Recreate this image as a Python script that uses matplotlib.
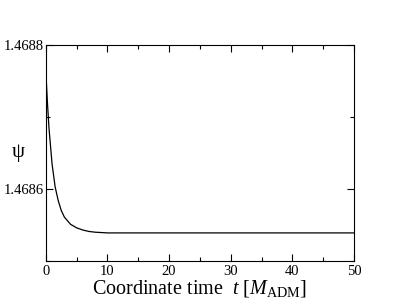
import matplotlib
matplotlib.use("Agg")
import matplotlib.pyplot as plt
from matplotlib.ticker import MultipleLocator, FormatStrFormatter

# values
t = [0, 0.25, 0.5, 1, 1.5, 2, 2.5, 3, 4, 5, 6, 7, 8, 10, 12, 15, 20, 30, 40, 50]
psi = [1.468762, 1.46872, 1.468685, 1.468635, 1.468603, 1.468584, 1.46857,
       1.468561, 1.468551, 1.468546, 1.468543, 1.468541, 1.46854, 1.468539,
       1.468539, 1.468539, 1.468539, 1.468539, 1.468539, 1.468539]

plt.rcParams['font.family'] = ['Liberation Serif', 'DejaVu Serif']
plt.rcParams['mathtext.fontset'] = 'custom'
plt.rcParams['mathtext.rm'] = 'Liberation Serif'
plt.rcParams['mathtext.it'] = 'Liberation Serif:italic'

fig = plt.figure(figsize=(3.99, 3.08), dpi=100)
ax = fig.add_axes([0.115, 0.1526, 0.772, 0.7014])
ax.plot(t, psi, color='black', lw=0.9)

ax.set_xlim(0, 50)
ax.set_ylim(1.4685, 1.4688)
ax.xaxis.set_major_locator(MultipleLocator(10))
ax.xaxis.set_minor_locator(MultipleLocator(5))
ax.yaxis.set_major_locator(MultipleLocator(0.0002))
ax.yaxis.set_minor_locator(MultipleLocator(0.0001))
ax.yaxis.set_major_formatter(FormatStrFormatter('%.4f'))
ax.tick_params(which='both', direction='in', top=True, right=True, labelsize=10.5)
ax.tick_params(axis='y', pad=1.5)
ax.tick_params(axis='x', pad=3)
ax.tick_params(which='major', length=5, width=0.8)
ax.tick_params(which='minor', length=3, width=0.8)

ax.set_xlabel(r'Coordinate time  $t$ [$M_{\mathrm{ADM}}$]', fontsize=14.5, labelpad=0)
ax.set_ylabel('ψ', fontsize=15, rotation=0, ha='center', va='center')
ax.yaxis.set_label_coords(-0.09, 0.5)

fig.savefig('out.png', dpi=100)
